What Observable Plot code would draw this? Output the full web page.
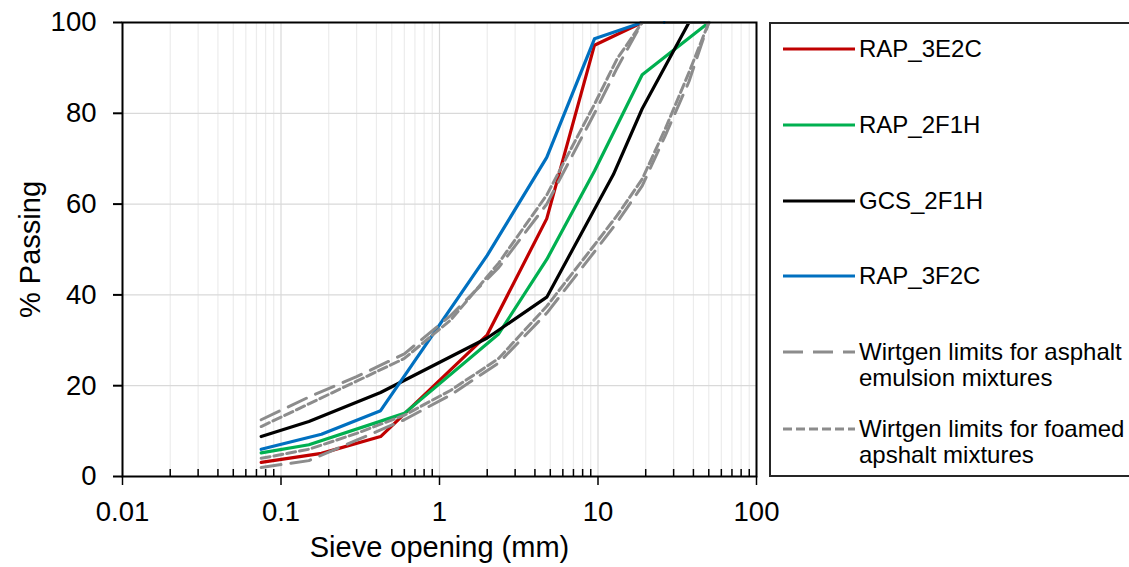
<!DOCTYPE html>
<html>
<head>
<meta charset="utf-8">
<script src="https://cdn.jsdelivr.net/npm/d3@7"></script>
<script src="https://cdn.jsdelivr.net/npm/@observablehq/plot@0.6"></script>
<style>
  body { margin: 0; background: #fff; font-family: "Liberation Sans", Arial, sans-serif; }
  #wrap { position: relative; width: 1129px; height: 567px; overflow: hidden; background: #fff; }
  #chart { position: absolute; left: 0; top: 0; }
  #legend { position: absolute; left: 769px; top: 22px; width: 420px; height: 455px;
            border: 2px solid #262626; box-sizing: border-box; background: #fff; }
  .sample { position: absolute; left: 12px; width: 72px; height: 8px; }
  .label { position: absolute; left: 88px; font-size: 24px; line-height: 26px; color: #000; white-space: nowrap; }
</style>
</head>
<body>
<div id="wrap">
  <div id="chart"></div>
  <div id="legend"></div>
</div>
<script>
// ---- Data ----
const sieveRAP_3E2C = [0.075, 0.18, 0.425, 2, 4.75, 9.5, 19, 25, 37.5, 50];
const passRAP_3E2C  = [3.1, 5.1, 8.8, 31.2, 56.8, 95, 100, 100, 100, 100];

const sieveRAP_2F1H = [0.075, 0.15, 0.6, 2.36, 4.75, 9.5, 19, 50];
const passRAP_2F1H  = [5.2, 7.0, 13.9, 31.4, 47.8, 67.3, 88.5, 100];

const sieveGCS_2F1H = [0.075, 0.15, 0.425, 2, 4.75, 12.5, 19, 37.5, 50];
const passGCS_2F1H  = [8.8, 12.1, 18.5, 30.5, 39.5, 66.5, 81, 100, 100];

const sieveRAP_3F2C = [0.075, 0.18, 0.425, 2, 4.75, 9.5, 19, 25, 37.5, 50];
const passRAP_3F2C  = [6.0, 9.3, 14.5, 48.7, 70.3, 96.4, 100, 100, 100, 100];

const sieveWirtgen   = [0.075, 0.15, 0.3, 0.6, 1.18, 2.36, 4.75, 9.5, 13.2, 19, 26.5, 37.5, 50];
const emulsionUpper  = [12.5, 17.5, 22, 27, 35.5, 46, 60, 80, 90, 100, 100, 100, 100];
const emulsionLower  = [2.0, 3.5, 8, 12.5, 18, 25, 36, 49.5, 56, 64, 75, 87, 100];
const foamedUpper    = [11, 16, 21, 26, 34.5, 47, 62, 82, 92, 100, 100, 100, 100];
const foamedLower    = [4.0, 6.0, 9.5, 13.5, 19, 26, 37.5, 51, 57.5, 65.5, 76.5, 89, 100];

const seriesNames  = ["RAP_3E2C", "RAP_2F1H", "GCS_2F1H", "RAP_3F2C"];
const seriesColors = ["#c00000", "#00b050", "#000000", "#0070c0"];
const limitColor   = "#8c8c8c";
const legendNames  = ["RAP_3E2C", "RAP_2F1H", "GCS_2F1H", "RAP_3F2C",
                      "Wirtgen limits for asphalt\nemulsion mixtures",
                      "Wirtgen limits for foamed\napshalt mixtures"];
const legendColors = ["#c00000", "#00b050", "#000000", "#0070c0", limitColor, limitColor];
const legendDashes = [null, null, null, null, "20,10", "9,4"];

const xMajorTicks = [0.01, 0.1, 1, 10, 100];
const yTicks = [0, 20, 40, 60, 80, 100];

// ---- Build tables ----
const toRows = (sizes, vals, name) => sizes.map((s, i) => ({size: s, pass: vals[i], name}));
const colored = [
  toRows(sieveRAP_3E2C, passRAP_3E2C, "RAP_3E2C"),
  toRows(sieveRAP_2F1H, passRAP_2F1H, "RAP_2F1H"),
  toRows(sieveGCS_2F1H, passGCS_2F1H, "GCS_2F1H"),
  toRows(sieveRAP_3F2C, passRAP_3F2C, "RAP_3F2C")
];
const emulsion = [...toRows(sieveWirtgen, emulsionUpper, "eu"), ...toRows(sieveWirtgen, emulsionLower, "el")];
const foamed   = [...toRows(sieveWirtgen, foamedUpper, "fu"), ...toRows(sieveWirtgen, foamedLower, "fl")];

const minors = [];
for (const d of [0.01, 0.1, 1, 10]) for (let k = 2; k <= 9; k++) minors.push(+(d * k).toPrecision(3));

const font = '"Liberation Sans", Arial, sans-serif';

const chart = Plot.plot({
  width: 760,
  height: 567,
  marginLeft: 122,
  marginRight: 4,
  marginTop: 22,
  marginBottom: 91,
  style: {fontFamily: font, fontSize: "27px", color: "#000", background: "transparent", overflow: "visible"},
  x: {type: "log", domain: [0.01, 100]},
  y: {domain: [0, 100]},
  marks: [
    Plot.ruleX(minors, {stroke: "#ececec", strokeWidth: 1.2}),
    Plot.ruleX(xMajorTicks, {stroke: "#d9d9d9", strokeWidth: 1.2}),
    Plot.ruleY(yTicks.slice(1, -1), {stroke: "#d9d9d9", strokeWidth: 1.2}),
    ...colored.map((rows, i) => Plot.line(rows, {x: "size", y: "pass", stroke: seriesColors[i], strokeWidth: 3.2, strokeLinejoin: "round"})),
    Plot.line(emulsion, {x: "size", y: "pass", z: "name", stroke: limitColor, strokeWidth: 3, strokeDasharray: "20,10"}),
    Plot.line(foamed, {x: "size", y: "pass", z: "name", stroke: limitColor, strokeWidth: 3, strokeDasharray: "9,4"}),
    Plot.frame({stroke: "#000", strokeWidth: 2}),
    Plot.axisX({ticks: minors, tickSize: 7, dy: -7, tickFormat: () => "", label: null, strokeWidth: 1.5}),
    Plot.axisX({ticks: xMajorTicks, tickSize: 9, tickPadding: 16, tickFormat: d => String(d), label: null, fontSize: 27.5, strokeWidth: 1.5}),
    Plot.axisY({ticks: yTicks, tickSize: 9, tickPadding: 17, label: null, fontSize: 27.5, strokeWidth: 2}),
    Plot.text(["Sieve opening (mm)"], {frameAnchor: "bottom", dy: 80, fontSize: 29, fill: "#000", textAnchor: "middle"}),
    Plot.text(["% Passing"], {frameAnchor: "left", dx: -92, rotate: -90, fontSize: 29, fill: "#000", textAnchor: "middle"})
  ]
});
document.getElementById("chart").appendChild(chart);

// ---- Legend ----
const legend = document.getElementById("legend");
const rowCenters = [47, 123, 199, 274, 350, 427];
legendNames.forEach((name, i) => {
  const cy = rowCenters[i] - 22;
  const svgNS = "http://www.w3.org/2000/svg";
  const s = document.createElementNS(svgNS, "svg");
  s.setAttribute("class", "sample");
  s.setAttribute("width", 72); s.setAttribute("height", 8);
  s.style.top = (cy - 4) + "px";
  const l = document.createElementNS(svgNS, "line");
  l.setAttribute("x1", 0); l.setAttribute("x2", 72); l.setAttribute("y1", 4); l.setAttribute("y2", 4);
  l.setAttribute("stroke", legendColors[i]); l.setAttribute("stroke-width", 3);
  if (legendDashes[i]) l.setAttribute("stroke-dasharray", legendDashes[i]);
  s.appendChild(l);
  legend.appendChild(s);
  const t = document.createElement("div");
  t.className = "label";
  const lines = name.split("\n");
  lines.forEach((ln, j) => { const d = document.createElement("div"); d.textContent = ln; t.appendChild(d); });
  t.style.top = (cy - 13) + "px";
  legend.appendChild(t);
});
</script>
</body>
</html>
